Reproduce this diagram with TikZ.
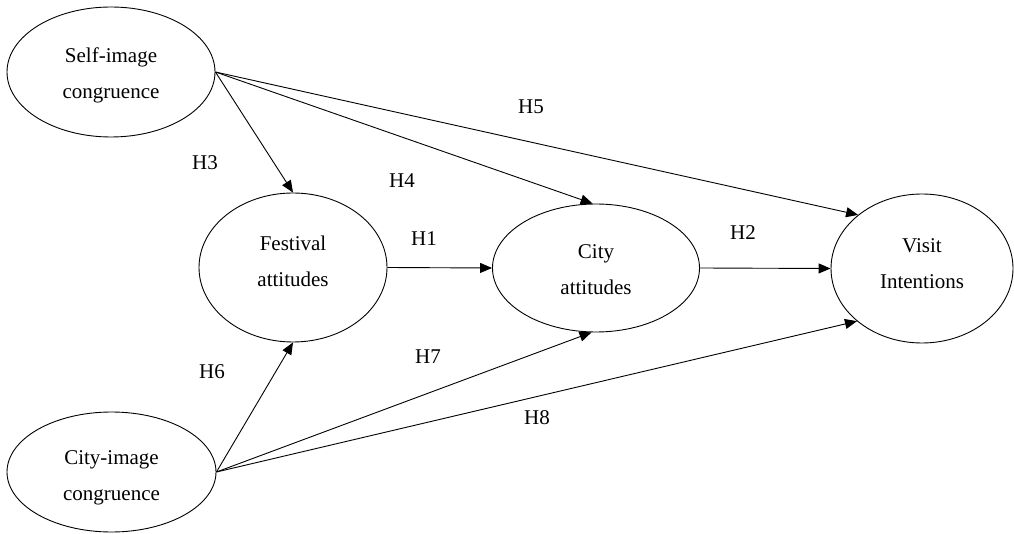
\documentclass[tikz,border=0pt]{standalone}
\usepackage{fontspec}
\setmainfont{Liberation Serif}
\usetikzlibrary{shapes.geometric,arrows.meta}
\begin{document}
\begin{tikzpicture}[x=1pt,y=-1pt,
  construct/.style={draw,ellipse,line width=0.9pt,inner sep=0pt},
  ctext/.style={align=center,inner sep=0pt,font=\fontsize{21}{36}\selectfont},
  hyp/.style={font=\fontsize{21}{24}\selectfont},
  path/.style={line width=0.9pt,-{Triangle[length=12pt,width=10pt]}}]
\useasboundingbox (0,0) rectangle (1014,534);
\node[construct,minimum width=208pt,minimum height=130pt] (self) at (111,72) {};
\node[construct,minimum width=188pt,minimum height=149pt] (fest) at (293,267.5) {};
\node[construct,minimum width=207pt,minimum height=128pt] (catt) at (596,268) {};
\node[construct,minimum width=182pt,minimum height=149pt] (visit) at (922,268.5) {};
\node[construct,minimum width=209pt,minimum height=120pt] (cimg) at (111.5,472) {};
\node[ctext] (selft) at (111,75) {Self-image\\congruence};
\node[ctext] (festt) at (293,261) {Festival\\attitudes};
\node[ctext] (cattt) at (596,270) {City\\attitudes};
\node[ctext] (visitt) at (922,264) {Visit\\Intentions};
\node[ctext] (cimgt) at (111.5,477.5) {City-image\\congruence};
\draw[path] (self.east) -- (fest.north);
\draw[path] (self.east) -- (catt.93);
\draw[path] (self.east) -- (visit.140.5);
\draw[path] (fest.east) -- (catt.west);
\draw[path] (catt.east) -- (visit.west);
\draw[path] (cimg.east) -- (fest.south);
\draw[path] (cimg.east) -- (catt.266);
\draw[path] (cimg.east) -- (visit.219.5);
\node[hyp] (h3) at (205,163) {H3};
\node[hyp] (h4) at (402,181) {H4};
\node[hyp] (h1) at (424,239) {H1};
\node[hyp] (h2) at (743,233) {H2};
\node[hyp] (h5) at (531,107) {H5};
\node[hyp] (h6) at (212,372) {H6};
\node[hyp] (h7) at (428,357) {H7};
\node[hyp] (h8) at (537,418) {H8};
\end{tikzpicture}
\end{document}
